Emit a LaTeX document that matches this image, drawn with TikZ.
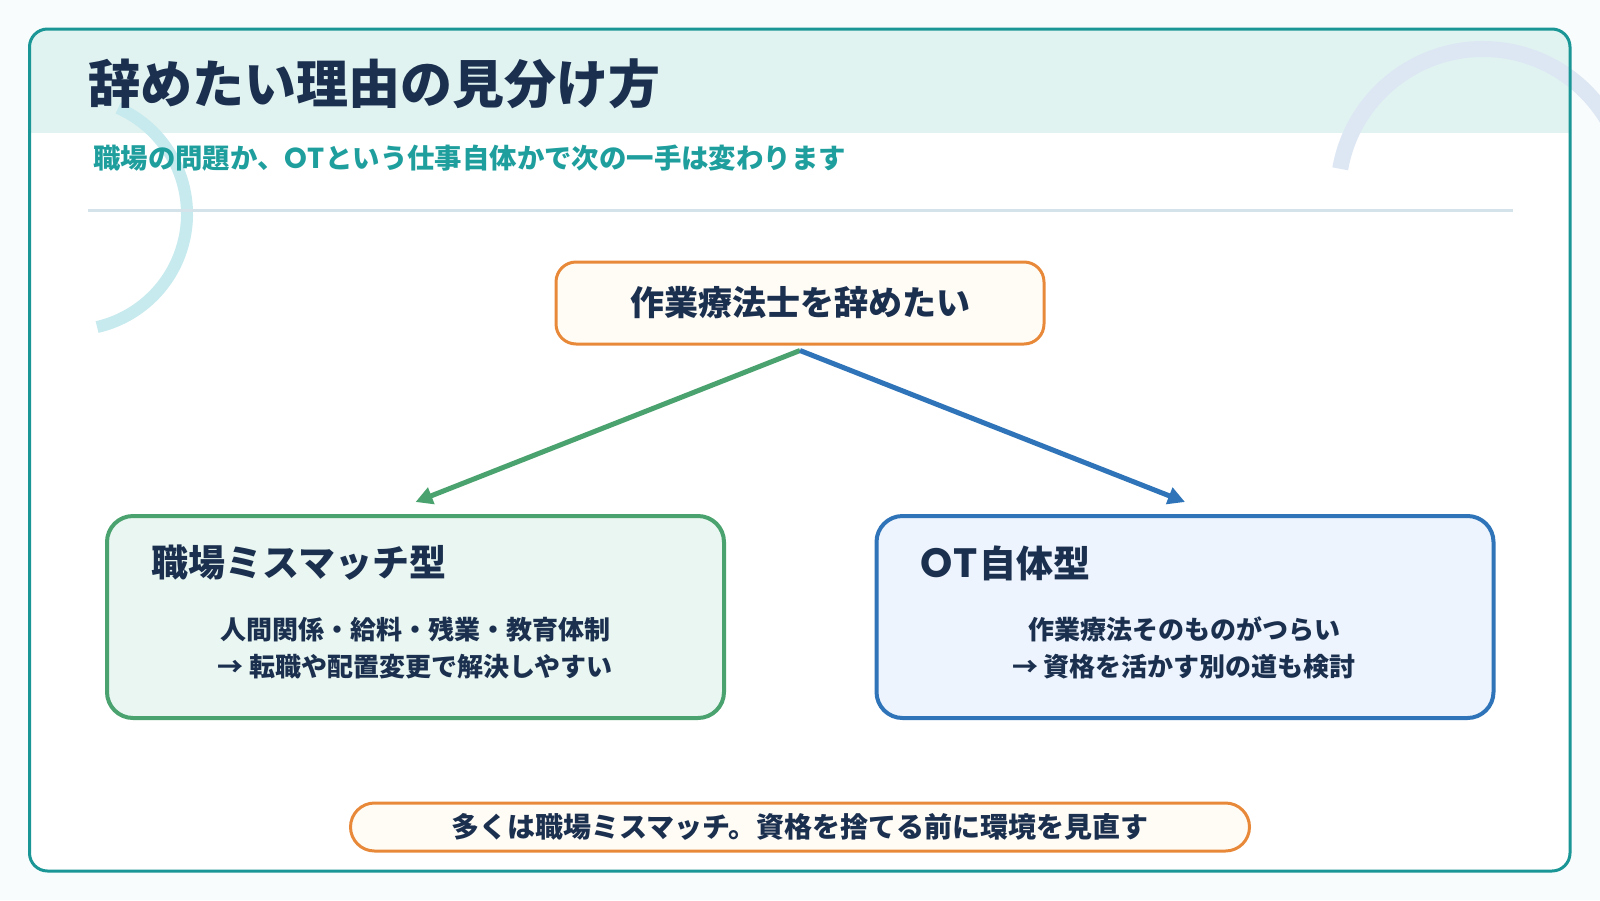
\documentclass[tikz,border=0pt]{standalone}
\usepackage{fontspec}
\setmainfont{Noto Sans CJK JP}[BoldFont={Noto Sans CJK JP Black}]
\newfontfamily\latinf{Poppins}
\usetikzlibrary{arrows.meta}
\definecolor{pagebg}{HTML}{F9FCFC}
\definecolor{framec}{HTML}{1A9696}
\definecolor{bandc}{HTML}{E0F3F1}
\definecolor{navy}{HTML}{1B2F4E}
\definecolor{tealtxt}{HTML}{1F9E9E}
\definecolor{sepc}{HTML}{D4E3EA}
\definecolor{larc}{HTML}{C6EAEE}
\definecolor{rarc}{HTML}{DDE7F3}
\definecolor{orangec}{HTML}{E8893A}
\definecolor{creamc}{HTML}{FFFCF6}
\definecolor{greenc}{HTML}{4AA36F}
\definecolor{greenfill}{HTML}{E9F6F1}
\definecolor{bluec}{HTML}{2F74B8}
\definecolor{bluefill}{HTML}{EDF4FD}
\tikzset{
  topbox/.style={draw=orangec, fill=creamc, line width=3pt, rounded corners=20pt,
    minimum width=488pt, minimum height=82pt, inner sep=0pt,
    text=navy, font=\fontsize{34}{40}\selectfont\bfseries},
  catbox/.style={line width=4pt, rounded corners=26pt,
    minimum width=617pt, minimum height=202pt, inner sep=0pt},
  cattitle/.style={anchor=west, inner sep=0pt, text=navy, font=\fontsize{37}{42}\selectfont\bfseries},
  catbody/.style={align=center, inner sep=0pt, text=navy, font=\fontsize{26}{37}\selectfont\bfseries},
  notebox/.style={draw=orangec, fill=creamc, line width=3pt, rounded corners=24pt,
    minimum width=899pt, minimum height=48pt, inner sep=0pt,
    text=navy, font=\fontsize{28}{32}\selectfont\bfseries},
  branch/.style={line width=5pt, -{Triangle[length=17pt,width=17pt]}},
}
\begin{document}
\begin{tikzpicture}[x=1pt,y=1pt]
\useasboundingbox (0,0) rectangle (1600,-900);
\fill[pagebg] (0,0) rectangle (1600,-900);
% frame background and header band
\fill[white, rounded corners=18pt] (29.5,-29) rectangle (1570,-871);
\begin{scope}
  \clip[rounded corners=18pt] (29.5,-29) rectangle (1570,-871);
  \fill[bandc] (29.5,-29) rectangle (1570,-133);
\end{scope}
% decorative arcs
\begin{scope}
  \clip (0,0) rectangle (1600,-900);
  \draw[larc, line width=12pt] (71,-214) ++(66:116) arc[start angle=66, end angle=-77, radius=116];
  \draw[rarc, line width=16pt] (1483,-194) ++(170:145) arc[start angle=170, end angle=5, radius=145];
\end{scope}
% frame border
\draw[framec, line width=3pt, rounded corners=18pt] (29.5,-29) rectangle (1570,-871);
% title and subtitle
\node[anchor=west, inner sep=0pt, text=navy, font=\fontsize{52}{60}\selectfont\bfseries] (title) at (88,-84) {辞めたい理由の見分け方};
\node[anchor=west, inner sep=0pt, text=tealtxt, font=\fontsize{27.4}{30}\selectfont\bfseries] (subtitle) at (93,-158) {職場の問題か、{\latinf\fontsize{29}{30}\selectfont OT\kern1pt}という仕事自体かで次の一手は変わります};
\draw[sepc, line width=3pt] (88,-210) -- (1513,-210);
% top node
\node[topbox] (top) at (800,-303) {作業療法士を辞めたい};
% category boxes
\node[catbox, draw=greenc, fill=greenfill] (left) at (415.5,-617) {};
\node[catbox, draw=bluec, fill=bluefill] (right) at (1185,-617) {};
\node[cattitle] (lt) at (151,-563) {職場ミスマッチ型};
\node[cattitle] (rt) at (920,-563) {{\latinf\fontsize{41}{42}\selectfont O\kern1pt T\kern2pt}自体型};
\node[catbody] (lb) at (415,-648) {人間関係・給料・残業・教育体制\\→ 転職や配置変更で解決しやすい};
\node[catbody] (rb) at (1184,-648) {作業療法そのものがつらい\\→ 資格を活かす別の道も検討};
% arrows
\draw[branch, greenc] ([yshift=-5pt]top.south) -- ([yshift=12pt]left.north);
\draw[branch, bluec] ([yshift=-5pt]top.south) -- ([yshift=12pt]right.north);
% bottom note
\node[notebox] (note) at (800,-827) {多くは職場ミスマッチ。資格を捨てる前に環境を見直す};
\end{tikzpicture}
\end{document}
